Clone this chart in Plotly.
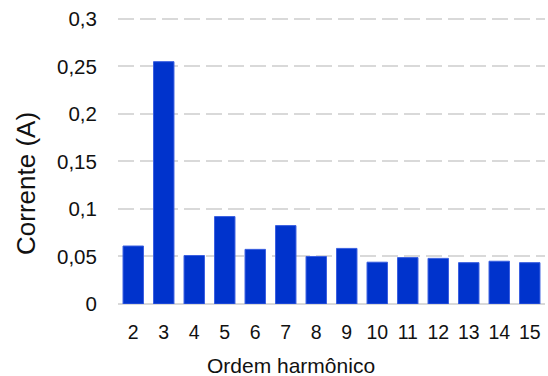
import plotly.graph_objects as go

ordem = ["2", "3", "4", "5", "6", "7", "8", "9", "10", "11", "12", "13", "14", "15"]
corrente = [0.061, 0.255, 0.051, 0.092, 0.0575, 0.0825, 0.050, 0.0585, 0.044, 0.0488, 0.048, 0.0435, 0.045, 0.0435]
y_ticks = [0, 0.05, 0.1, 0.15, 0.2, 0.25, 0.3]
x_title = "Ordem harmônico"
y_title = "Corrente (A)"

W, H = 548, 376
ML, MR, MT, MB = 118, 3, 17, 72

fig = go.Figure(go.Bar(
    x=ordem, y=corrente,
    marker=dict(color="#0033cc", line=dict(color="#3a5fe0", width=1)),
))

fig.update_layout(
    width=W, height=H,
    margin=dict(l=ML, r=MR, t=MT, b=MB),
    paper_bgcolor="white", plot_bgcolor="white",
    separators=",.",
    bargap=0.33,
    showlegend=False,
    font=dict(family="Liberation Sans, Arial, sans-serif", color="#111111"),
)
fig.update_yaxes(
    range=[0, 0.302], tickvals=y_ticks,
    showgrid=True, gridcolor="#d9d9d9", gridwidth=1.5, griddash="16px,6px",
    zeroline=True, zerolinecolor="#d9d9d9", zerolinewidth=1.5,
    tickfont=dict(size=20.5), ticks="outside", ticklen=16, tickcolor="white",
)
fig.update_xaxes(
    type="category",
    showgrid=False, showline=False,
    tickfont=dict(size=19.5), ticks="outside", ticklen=11, tickcolor="white",
)

pw = W - ML - MR
ph = H - MT - MB
fig.add_annotation(
    text=x_title, xref="paper", yref="paper",
    x=(291 - ML) / pw, y=-(365 - (H - MB)) / ph,
    showarrow=False, font=dict(size=21), xanchor="center", yanchor="middle",
)
fig.add_annotation(
    text=y_title, xref="paper", yref="paper",
    x=-(ML - 26) / pw, y=((H - MB) - 184) / ph,
    showarrow=False, font=dict(size=26), textangle=-90,
    xanchor="center", yanchor="middle",
)

fig.write_html(
    "out.html",
    config={"displayModeBar": False},
    post_script="document.body.style.margin='0';document.body.style.padding='0';",
)
